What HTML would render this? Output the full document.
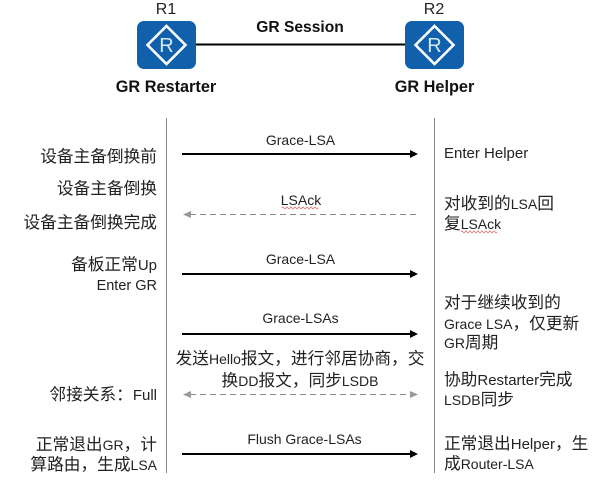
<!DOCTYPE html>
<html><head><meta charset="utf-8"><style>
html,body{margin:0;padding:0;background:#fff}
svg{display:block}
text{font-family:"Liberation Sans","Noto Sans CJK SC",sans-serif;font-size:16.7px;fill:#222}
.l{font-size:14px}
.h{font-size:15px}
.b{font-weight:bold;font-size:16.3px;fill:#111}
.e{text-anchor:end}
.m{text-anchor:middle}
</style></head><body>
<svg width="602" height="495" viewBox="0 0 602 495" xmlns="http://www.w3.org/2000/svg">
<defs>
<g id="r"><rect x="0" y="0" width="59" height="48" rx="7" fill="#1160ab"/>
<path d="M29.5 5 L48.5 24 L29.5 43 L10.500 24 Z" fill="none" stroke="#fff" stroke-width="2.6"/>
<text x="29.5" y="31" class="m" style="font-size:20px;fill:#d6e8f8">R</text></g>
</defs>
<use href="#r" x="137" y="21"/><use href="#r" x="405" y="21"/>
<line x1="196" y1="44.5" x2="405" y2="44.5" stroke="#000" stroke-width="2"/>
<text x="166" y="14" class="m" style="font-size:16px">R1</text>
<text x="434" y="14" class="m" style="font-size:16px">R2</text>
<text x="300" y="32" class="m b" style="font-size:15.6px">GR Session</text>
<text x="166" y="92" class="m b">GR Restarter</text>
<text x="434.500" y="92" class="m b">GR Helper</text>
<line x1="166.5" y1="118" x2="166.5" y2="473" stroke="#888" stroke-width="1"/>
<line x1="434.5" y1="118" x2="434.5" y2="473" stroke="#888" stroke-width="1"/>
<g stroke="#000" stroke-width="2">
<line x1="182" y1="154" x2="412" y2="154"/>
<line x1="182" y1="274" x2="412" y2="274"/>
<line x1="182" y1="334" x2="412" y2="334"/>
<line x1="182" y1="454" x2="412" y2="454"/>
</g>
<g fill="#000">
<path d="M410 150 L418 154 L410 158Z"/><path d="M410 270 L418 274 L410 278Z"/>
<path d="M410 330 L418 334 L410 338Z"/><path d="M410 450 L418 454 L410 458Z"/>
</g>
<g stroke="#888" stroke-width="1" stroke-dasharray="6 4">
<line x1="190" y1="214.5" x2="418" y2="214.5"/>
<line x1="190" y1="394.5" x2="411" y2="394.5"/>
</g>
<g fill="#999">
<path d="M183 214.5 L191 211 L191 218Z"/><path d="M183 394.5 L191 391 L191 398Z"/>
<path d="M418 394.5 L410 391 L410 398Z"/>
</g>
<text x="300.500" y="145" class="m l">Grace-LSA</text>
<text x="301" y="205" class="m l">LSAck</text>
<path d="M282 208 q1 -2 2 0 t2 0 t2 0 t2 0 t2 0 t2 0 t2 0 t2 0 t2 0 t2 0 t2 0 t2 0 t2 0 t2 0 t2 0 t2 0 t2 0 t2 0" fill="none" stroke="#d66" stroke-width="0.8"/>
<text x="300.500" y="264" class="m l">Grace-LSA</text>
<text x="300.500" y="323" class="m l">Grace-LSAs</text>
<text x="304.500" y="444" class="m l">Flush Grace-LSAs</text>
<text x="300" y="364" class="m">发送<tspan class="l">Hello</tspan>报文，进行邻居协商，交</text>
<text x="300" y="386" class="m">换<tspan class="l">DD</tspan>报文，同步<tspan class="l">LSDB</tspan></text>
<text x="157" y="162" class="e">设备主备倒换前</text>
<text x="157" y="194" class="e">设备主备倒换</text>
<text x="157" y="228" class="e">设备主备倒换完成</text>
<text x="157" y="270" class="e">备板正常<tspan class="h">Up</tspan></text>
<text x="157" y="290" class="e" style="font-size:14.5px">Enter GR</text>
<text x="157" y="400" class="e">邻接关系：<tspan class="h">Full</tspan></text>
<text x="157" y="450" class="e">正常退出<tspan class="l">GR</tspan>，计</text>
<text x="157" y="470" class="e">算路由，生成<tspan class="l">LSA</tspan></text>
<text x="444" y="158" class="h">Enter Helper</text>
<text x="444" y="209">对收到的<tspan class="l">LSA</tspan>回</text>
<text x="444" y="229">复<tspan class="l">LSAck</tspan></text>
<path d="M461 232 q1 -2 2 0 t2 0 t2 0 t2 0 t2 0 t2 0 t2 0 t2 0 t2 0 t2 0 t2 0 t2 0 t2 0 t2 0 t2 0 t2 0 t2 0 t2 0" fill="none" stroke="#d66" stroke-width="0.8"/>
<text x="444" y="308">对于继续收到的</text>
<text x="444" y="329"><tspan class="l">Grace LSA</tspan>，仅更新</text>
<text x="444" y="348"><tspan class="l">GR</tspan>周期</text>
<text x="444" y="385">协助<tspan class="h">Restarter</tspan>完成</text>
<text x="444" y="405"><tspan class="l">LSDB</tspan>同步</text>
<text x="444" y="449">正常退出<tspan class="h">Helper</tspan>，生</text>
<text x="444" y="469">成<tspan class="l">Router-LSA</tspan></text>
</svg>
</body></html>
